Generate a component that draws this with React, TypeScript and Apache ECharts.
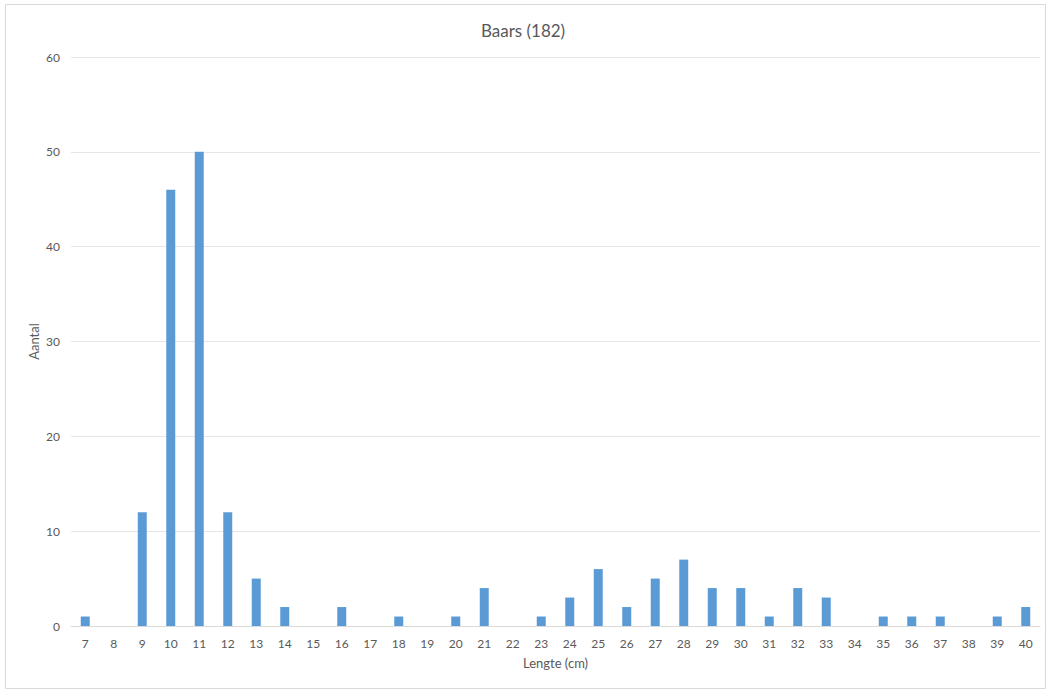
import React, { useEffect, useRef } from "react";
import * as echarts from "echarts";

const lengths = ["7","8","9","10","11","12","13","14","15","16","17","18","19","20","21","22","23","24","25","26","27","28","29","30","31","32","33","34","35","36","37","38","39","40"];
const counts = [1,0,12,46,50,12,5,2,0,2,0,1,0,1,4,0,1,3,6,2,5,7,4,4,1,4,3,0,1,1,1,0,1,2];
const yTicks = { min: 0, max: 60, interval: 10 };

const FONT = "Lato, 'Noto Sans', sans-serif";
const TXT = "#595959";

export default function App() {
  const ref = useRef<HTMLDivElement>(null);
  useEffect(() => {
    document.body.style.margin = "0";
    const chart = echarts.init(ref.current!, null, { renderer: "svg" });
    chart.setOption({
      animation: false,
      backgroundColor: "#ffffff",
      title: {
        text: "Baars (182)",
        left: "center",
        top: 17,
        textStyle: { fontFamily: FONT, fontSize: 17, fontWeight: "normal", color: TXT },
      },
      graphic: [
        {
          type: "rect",
          shape: { x: 5.5, y: 4.5, width: 1040, height: 684 },
          style: { fill: "none", stroke: "#d9d9d9", lineWidth: 1 },
          silent: true,
        },
      ],
      grid: { left: 71, right: 6, top: 57, bottom: 64 },
      xAxis: {
        type: "category",
        data: lengths,
        name: "Lengte (cm)",
        nameLocation: "middle",
        nameGap: 30,
        nameTextStyle: { fontFamily: FONT, fontSize: 13, color: TXT },
        axisTick: { show: false },
        axisLine: { lineStyle: { color: "#d9d9d9" } },
        axisLabel: { fontFamily: FONT, fontSize: 12, color: TXT, margin: 11, interval: 0 },
      },
      yAxis: {
        type: "value",
        min: yTicks.min,
        max: yTicks.max,
        interval: yTicks.interval,
        name: "Aantal",
        nameLocation: "middle",
        nameGap: 31,
        nameMoveOverlap: false,
        nameTextStyle: { fontFamily: FONT, fontSize: 13, color: TXT },
        axisLine: { show: false },
        axisTick: { show: false },
        splitLine: { lineStyle: { color: "#e6e6e6" } },
        axisLabel: { fontFamily: FONT, fontSize: 12, color: TXT, margin: 11 },
      },
      series: [
        {
          type: "bar",
          data: counts,
          barWidth: 9,
          itemStyle: { color: "#5b9bd5" },
        },
      ],
    });
    return () => chart.dispose();
  }, []);
  return <div ref={ref} style={{ width: 1046, height: 690 }} />;
}
